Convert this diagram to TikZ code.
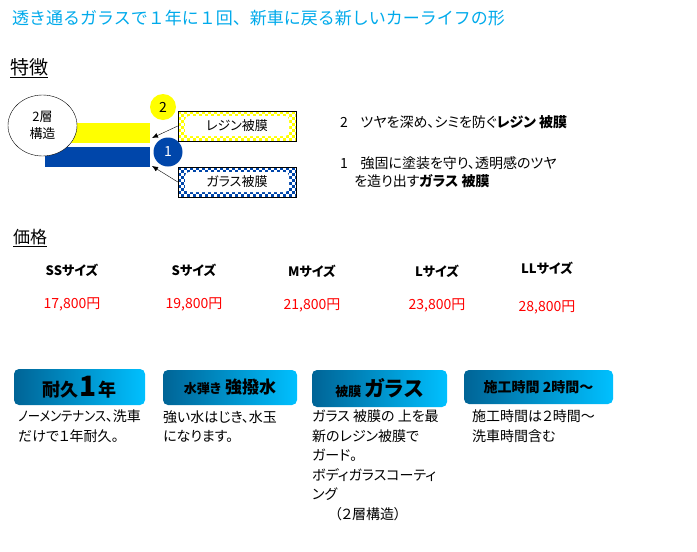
\documentclass[tikz,border=0pt]{standalone}
\usepackage{fontspec}
\setmainfont{Noto Sans CJK JP}[RawFeature=+palt]
\newfontfamily\jpwide{Noto Sans CJK JP}
\usetikzlibrary{arrows.meta,shapes.geometric}
\definecolor{titlecyan}{RGB}{0,170,235}
\definecolor{filmyellow}{RGB}{255,255,0}
\definecolor{filmblue}{RGB}{0,70,170}
\definecolor{pricered}{RGB}{255,0,0}
\definecolor{tabdark}{RGB}{0,100,150}
\definecolor{tablight}{RGB}{0,192,255}
\newcommand{\setfs}[2]{\fontsize{#1}{#2}\selectfont}

\begin{document}
\begin{tikzpicture}[x=1pt,y=-1pt,
	txt/.style={inner sep=0pt, anchor=west},
	sizelabel/.style={inner sep=0pt, font=\setfs{13}{16}\bfseries},
	price/.style={inner sep=0pt, text=pricered, font=\setfs{14}{16}},
	tab/.style={rounded corners=5pt, left color=tabdark, right color=tablight, inner sep=0pt},
	body/.style={inner sep=0pt, anchor=north west, align=left, font=\setfs{14}{19.5}}]
\useasboundingbox[fill=white] (0,0) rectangle (697,552);

\node[txt, text=titlecyan, font=\jpwide\setfs{17}{20}] (title) at (12,18) {透き通るガラスで１年に１回、新車に戻る新しいカーライフの形};
\node[txt, font=\setfs{19}{22}] (features) at (10,68) {\underline{特徴}};

% two layer film
\fill[filmyellow] (45,123) rectangle (150,143);
\fill[filmblue] (45,147) rectangle (150,167);
\coordinate (resinEnd) at (152,138);
\coordinate (glassEnd) at (152,166);
\node[draw, ellipse, fill=white, minimum width=69pt, minimum height=61pt, align=center, font=\setfs{13}{17}] (layers) at (42.5,125.5) {2層\\構造};
\node[circle, fill=filmyellow, minimum size=26pt, inner sep=0pt, font=\setfs{14}{16}] (numTwo) at (163,107) {2};
\node[circle, fill=filmblue, text=white, minimum size=29pt, inner sep=0pt, font=\setfs{14}{16}] (numOne) at (168,152) {1};

\foreach \col/\y/\nm/\lab in {filmyellow/111/resinBox/レジン被膜, filmblue/167/glassBox/ガラス被膜}{
	\begin{scope}
	\clip (178,\y) rectangle ++(118,30);
	\foreach \i in {0,...,19}
		\foreach \j in {0,...,4}{
			\fill[\col] (178+6*\i,\y+6*\j) rectangle ++(3,3);
			\fill[\col] (181+6*\i,\y+3+6*\j) rectangle ++(3,3);
		}
	\end{scope}
	\fill[white, rounded corners=4pt] (185,\y+5) rectangle ++(104,20);
	\node[draw, minimum width=118pt, minimum height=30pt, inner sep=0pt, font=\setfs{13}{16}] (\nm) at (237,\y+15) {\lab};
}
\draw[-{Latex[length=6pt,width=5pt]}] (resinBox.west) -- (resinEnd);
\draw[-{Latex[length=6pt,width=5pt]}] (glassBox.west) -- (glassEnd);

\node[txt, font=\setfs{14}{16}] (pointTwo) at (340,122) {2\hspace{0.9em}ツヤを深め、シミを防ぐ\textbf{レジン 被膜}};
\node[txt, font=\setfs{14}{16}] (pointOne) at (340,163) {1\hspace{0.9em}強固に塗装を守り、透明感のツヤ};
\node[txt, font=\setfs{14}{16}] (pointOneB) at (354,181) {を造り出す\textbf{ガラス 被膜}};

% prices
\node[txt, font=\setfs{17}{20}] (prices) at (13,238) {\underline{価格}};
\foreach \x/\s/\p/\ys/\yp [count=\k] in {72/SS/{17,800円}/270/304, 194/S/{19,800円}/270/304, 312/M/{21,800円}/271/305, 437/L/{23,800円}/271/305, 547/LL/{28,800円}/268/307}{
	\node[sizelabel] (size\k) at (\x,\ys) {\s{}サイズ};
	\node[price] (cost\k) at (\x,\yp) {\p};
}

% menu tabs
\node[tab, minimum width=131pt, minimum height=36pt] (tabLife) at (79.5,387) {{\setfs{18}{20}\bfseries 耐久}\,{\setfs{28}{30}\bfseries 1}\,{\setfs{18}{20}\bfseries 年}};
\node[tab, minimum width=134pt, minimum height=35pt] (tabWater) at (230,387.5) {{\setfs{13}{15}\bfseries 水弾き}\hspace{0.4em}{\setfs{17}{20}\bfseries 強撥水}};
\node[tab, minimum width=135pt, minimum height=37pt] (tabGlass) at (379.5,388.5) {{\setfs{13}{15}\bfseries 被膜}\hspace{0.4em}{\setfs{21}{24}\bfseries ガラス}};
\node[tab, minimum width=149pt, minimum height=34pt] (tabTime) at (538.5,387) {{\setfs{14}{16}\bfseries 施工時間 2時間～}};

\node[body] (textLife) at (18,410) {\scalebox{0.88}[1]{ノーメンテナンス}、洗車\\だけで１年耐久。};
\node[body] (textWater) at (163,410) {強い水はじき、水玉\\になります。};
\node[body] (textGlass) at (312,410) {ガラス 被膜の 上を最\\新のレジン被膜で\\ガード。\\ボディガラスコーティ\\ング\\\hspace*{1.6em}（２層構造）};
\node[body] (textTime) at (472,410) {施工時間は２時間～\\洗車時間含む};
\end{tikzpicture}
\end{document}
